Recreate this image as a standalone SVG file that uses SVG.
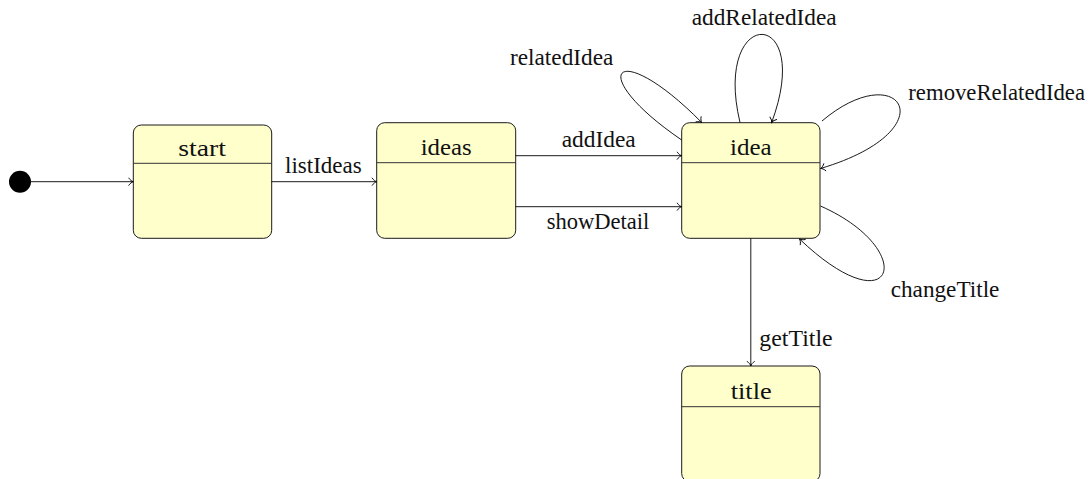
<svg xmlns="http://www.w3.org/2000/svg" width="1089" height="479" viewBox="0 0 1089 479" font-family="Liberation Serif, serif">
  <style>
    .state rect { fill: #ffffcc; stroke: #1a1a1a; stroke-width: 1; }
    .state line { stroke: #333333; stroke-width: 1; }
    text { font-size: 23px; fill: #111111; }
    .edge { fill: none; stroke: #000000; stroke-width: 0.9; marker-end: url(#arr); }
  </style>
  <defs>
    <marker id="arr" markerUnits="userSpaceOnUse" markerWidth="12" markerHeight="12" viewBox="-6 -6 12 12" refX="0" refY="0" orient="auto" overflow="visible">
      <path d="M-4.5,-3.6 C-3.2,-1.6 -1.4,-0.4 0,0 C-1.4,0.4 -3.2,1.6 -4.5,3.6" fill="none" stroke="#000" stroke-width="0.9" stroke-linecap="round"/>
    </marker>
  </defs>

  <rect width="1089" height="479" fill="#ffffff"/>

  <!-- initial pseudo-state -->
  <g id="initial">
    <circle cx="20" cy="181.7" r="11" fill="#000000"/>
  </g>

  <!-- states -->
  <g id="start" class="state">
    <rect x="133.3" y="125" width="138.4" height="113.3" rx="8" ry="8"/>
    <line x1="133.3" y1="163.3" x2="271.7" y2="163.3"/>
    <text x="178.3" y="155.7" textLength="47.7" lengthAdjust="spacingAndGlyphs">start</text>
  </g>

  <g id="ideas" class="state">
    <rect x="376.7" y="122.7" width="139" height="115.6" rx="8" ry="8"/>
    <line x1="376.7" y1="162.7" x2="515.7" y2="162.7"/>
    <text x="420.7" y="155" textLength="51" lengthAdjust="spacingAndGlyphs">ideas</text>
  </g>

  <g id="idea" class="state">
    <rect x="681.7" y="122.7" width="138.3" height="115.6" rx="8" ry="8"/>
    <line x1="681.7" y1="162.7" x2="820" y2="162.7"/>
    <text x="730" y="155" textLength="41.7" lengthAdjust="spacingAndGlyphs">idea</text>
  </g>

  <g id="title" class="state">
    <rect x="681.7" y="366" width="138.3" height="115.6" rx="8" ry="8"/>
    <line x1="681.7" y1="406.7" x2="820" y2="406.7"/>
    <text x="730.7" y="399" textLength="41" lengthAdjust="spacingAndGlyphs">title</text>
  </g>

  <!-- transitions -->
  <g id="connectors">
    <line class="edge" x1="31" y1="181.7" x2="133.3" y2="181.7"/>
    <line class="edge" x1="271.7" y1="181.7" x2="376.7" y2="181.7"/>
    <line class="edge" x1="515.7" y1="155.7" x2="681.7" y2="155.7"/>
    <line class="edge" x1="515.7" y1="206.7" x2="681.7" y2="206.7"/>
    <line class="edge" x1="750.8" y1="238.3" x2="750.8" y2="366"/>
    <!-- self loops on idea -->
    <path class="edge" d="M681.7,140 C583,72.8 615,34.6 701.7,122.5"/>
    <path class="edge" d="M740,122.5 C712,5 815,5 771.7,122.5"/>
    <path class="edge" d="M822,121 C900,55 950,130 820.5,168.5"/>
    <path class="edge" d="M820.5,206 C920,250 895,330 799.5,239"/>

    <text x="285" y="173.3" textLength="76.7" lengthAdjust="spacingAndGlyphs">listIdeas</text>
    <text x="561.7" y="146.7" textLength="74" lengthAdjust="spacingAndGlyphs">addIdea</text>
    <text x="546.7" y="229" textLength="102.7" lengthAdjust="spacingAndGlyphs">showDetail</text>
    <text x="759.3" y="346" textLength="73.3" lengthAdjust="spacingAndGlyphs">getTitle</text>
    <text x="890.7" y="297.3" textLength="108.7" lengthAdjust="spacingAndGlyphs">changeTitle</text>
    <text x="510" y="65" textLength="103.3" lengthAdjust="spacingAndGlyphs">relatedIdea</text>
    <text x="691.7" y="25" textLength="145" lengthAdjust="spacingAndGlyphs">addRelatedIdea</text>
    <text x="908.3" y="100" textLength="176.7" lengthAdjust="spacingAndGlyphs">removeRelatedIdea</text>
  </g>
</svg>
